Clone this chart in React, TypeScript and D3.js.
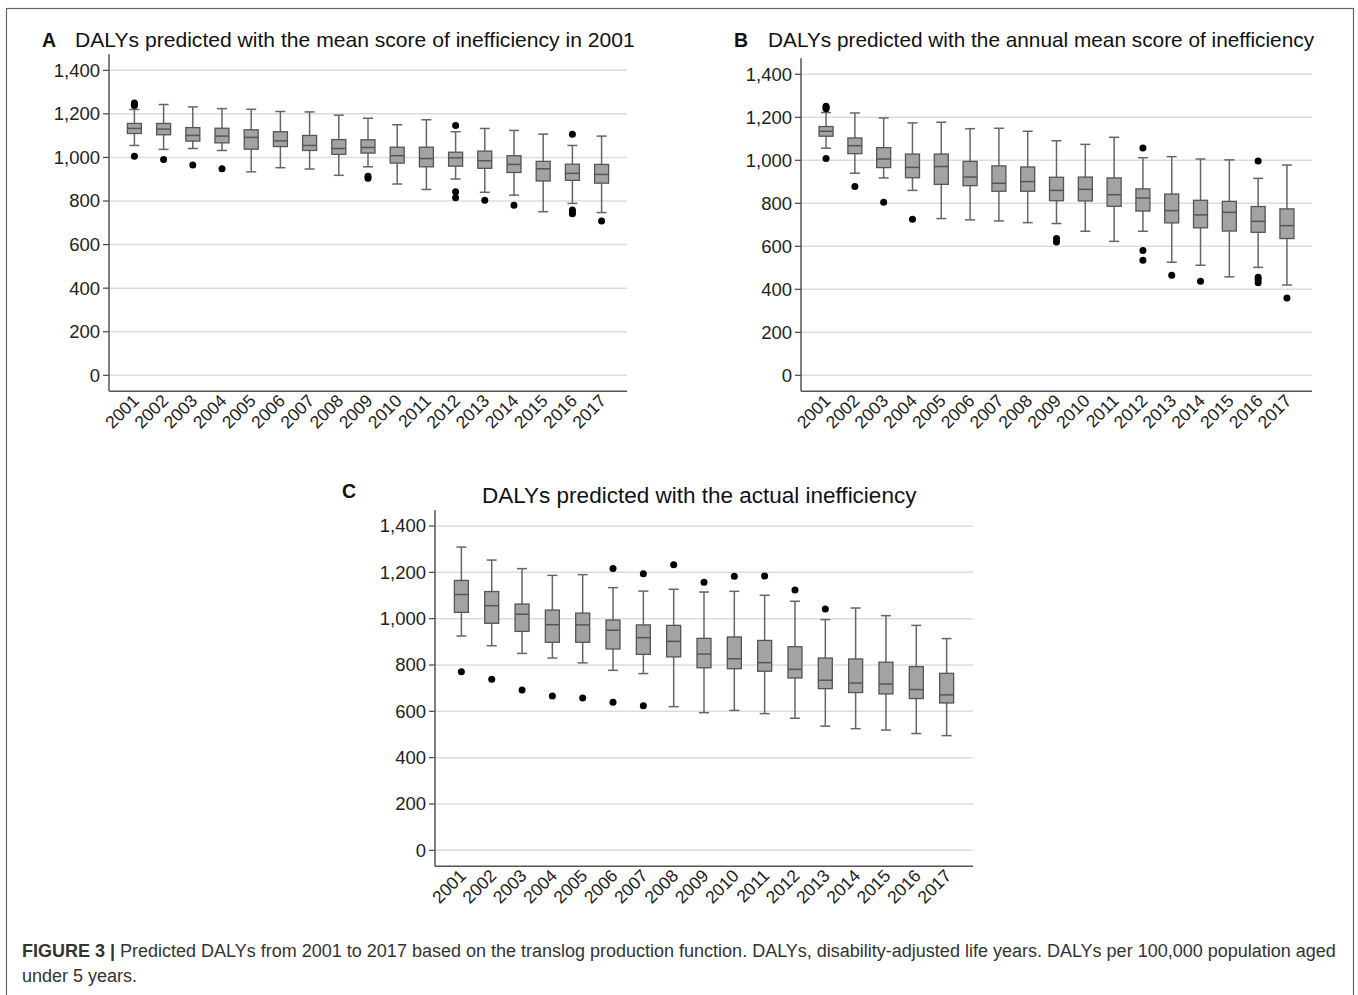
import React from "react";
import * as d3 from "d3";

const years = ["2001","2002","2003","2004","2005","2006","2007","2008","2009","2010","2011","2012","2013","2014","2015","2016","2017"];
const yTicks = [0, 200, 400, 600, 800, 1000, 1200, 1400];

// Panel A: mean score of inefficiency in 2001
const aLow = [1055,1037,1041,1032,934,953,947,918,957,878,853,901,840,827,751,789,747];
const aQ1 = [1110,1104,1075,1067,1038,1050,1032,1014,1020,974,957,960,950,931,892,895,882];
const aMed = [1133,1130,1101,1098,1092,1076,1055,1041,1046,1008,995,998,985,968,948,927,922];
const aQ3 = [1156,1156,1137,1134,1127,1118,1101,1082,1081,1047,1047,1024,1029,1008,982,969,968];
const aHigh = [1220,1243,1232,1224,1221,1211,1209,1194,1180,1150,1173,1118,1133,1124,1107,1055,1098];
const aOut = [[1250,1243,1238,1006],[991],[965],[948],[],[],[],[],[914,904],[],[],[1147,843,815],[803],[780],[],[1107,759,750,742],[708]];

// Panel B: annual mean score of inefficiency
const bLow = [1056,940,918,860,729,723,718,710,706,670,623,670,526,512,458,502,420];
const bQ1 = [1112,1031,966,919,888,882,856,856,812,811,786,764,709,686,671,665,636];
const bMed = [1135,1068,1006,967,971,922,893,901,860,865,840,825,766,746,758,716,696];
const bQ3 = [1157,1104,1059,1029,1029,995,974,969,921,922,918,867,843,814,809,785,774];
const bHigh = [1222,1220,1197,1174,1177,1147,1149,1135,1091,1074,1107,1012,1017,1006,1002,916,978];
const bOut = [[1251,1244,1240,1008],[878],[805],[726],[],[],[],[],[636,620],[],[],[1057,580,535],[465],[437],[],[997,456,444,431],[359]];

// Panel C: actual inefficiency
const cLow = [925,883,850,830,809,777,763,620,594,604,590,570,536,525,519,504,495];
const cQ1 = [1027,980,945,898,898,869,846,835,788,784,773,744,698,681,675,655,636];
const cMed = [1104,1056,1019,974,973,950,918,902,847,827,810,781,734,722,718,694,671];
const cQ3 = [1165,1117,1063,1037,1024,994,973,971,915,921,906,879,830,826,812,793,764];
const cHigh = [1309,1253,1216,1187,1190,1134,1119,1127,1115,1118,1101,1075,996,1046,1013,971,914];
const cOut = [[771],[738],[692],[666],[658],[1217,639],[1194,624],[1233],[1157],[1183],[1184],[1124],[1042],[],[],[],[]];

const FONT = "'Liberation Sans', Arial, Helvetica, sans-serif";

type PanelProps = {
  letter: string;
  title: string;
  letterX: number;
  titleX: number;
  titleY: number;
  titleSize?: number;
  xLeft: number;
  xRight: number;
  yZero: number;
  yTop: number;
  low: number[];
  q1: number[];
  med: number[];
  q3: number[];
  high: number[];
  out: number[][];
  letterY?: number;
};

function Panel(p: PanelProps) {
  const x = d3.scalePoint<string>().domain(years).range([p.xLeft, p.xRight]).padding(0.87);
  const y = d3.scaleLinear().domain([0, 1400]).range([p.yZero, p.yTop]);
  const axisTop = p.yTop - 16;
  const axisBottom = p.yZero + 16;
  const bw = 14;
  const cap = 10;
  const fmt = d3.format(",");
  return (
    <g>
      <text x={p.letterX} y={p.letterY ?? p.titleY} fontFamily={FONT} fontWeight="bold" fontSize={19.5} fill="#111">{p.letter}</text>
      <text x={p.titleX} y={p.titleY} fontFamily={FONT} fontSize={p.titleSize ?? 21.1} fill="#111">{p.title}</text>
      {yTicks.map((t) => (
        <g key={t}>
          <line x1={p.xLeft} x2={p.xRight} y1={y(t)} y2={y(t)} stroke="#dcdcdc" strokeWidth={1.5} />
          <line x1={p.xLeft - 6} x2={p.xLeft} y1={y(t)} y2={y(t)} stroke="#444" strokeWidth={1.2} />
          <text x={p.xLeft - 9} y={y(t)} dy="0.35em" textAnchor="end" fontFamily={FONT} fontSize={18.5} fill="#222">{fmt(t)}</text>
        </g>
      ))}
      <line x1={p.xLeft} x2={p.xLeft} y1={axisTop} y2={axisBottom} stroke="#555" strokeWidth={1.5} />
      <line x1={p.xLeft} x2={p.xRight} y1={axisBottom} y2={axisBottom} stroke="#555" strokeWidth={1.5} />
      {years.map((yr, i) => {
        const cx = x(yr) as number;
        return (
          <g key={yr}>
            <line x1={cx} x2={cx} y1={y(p.high[i])} y2={y(p.q3[i])} stroke="#666" strokeWidth={1.5} />
            <line x1={cx} x2={cx} y1={y(p.q1[i])} y2={y(p.low[i])} stroke="#666" strokeWidth={1.5} />
            <line x1={cx - cap / 2} x2={cx + cap / 2} y1={y(p.high[i])} y2={y(p.high[i])} stroke="#666" strokeWidth={1.5} />
            <line x1={cx - cap / 2} x2={cx + cap / 2} y1={y(p.low[i])} y2={y(p.low[i])} stroke="#666" strokeWidth={1.5} />
            <rect x={cx - bw / 2} y={y(p.q3[i])} width={bw} height={y(p.q1[i]) - y(p.q3[i])} fill="#a3a3a3" stroke="#555" strokeWidth={1.3} />
            <line x1={cx - bw / 2} x2={cx + bw / 2} y1={y(p.med[i])} y2={y(p.med[i])} stroke="#555" strokeWidth={1.5} />
            {p.out[i].map((v, j) => (
              <circle key={j} cx={cx} cy={y(v)} r={3.5} fill="#000" />
            ))}
            <text transform={`translate(${cx - 3},${axisBottom + 2}) rotate(-45)`} dy="0.7em" textAnchor="end" fontFamily={FONT} fontSize={17.5} fill="#222">{yr}</text>
          </g>
        );
      })}
    </g>
  );
}

export default function App() {
  return (
    <svg width={1358} height={995} style={{ position: "absolute", left: 0, top: 0, background: "#fff" }}>
      <rect x={6.5} y={8.5} width={1347} height={1000} fill="#fff" stroke="#666" strokeWidth={1.2} />
      <Panel letter="A" title="DALYs predicted with the mean score of inefficiency in 2001" letterX={42} titleX={75} titleY={47}
        xLeft={109} xRight={627} yZero={375.3} yTop={70.3}
        low={aLow} q1={aQ1} med={aMed} q3={aQ3} high={aHigh} out={aOut} />
      <Panel letter="B" title="DALYs predicted with the annual mean score of inefficiency" letterX={734} titleX={768} titleY={47} titleSize={20.8}
        xLeft={801} xRight={1312} yZero={375.3} yTop={74.3}
        low={bLow} q1={bQ1} med={bMed} q3={bQ3} high={bHigh} out={bOut} />
      <Panel letter="C" title="DALYs predicted with the actual inefficiency" letterX={342} titleX={482} titleY={503} letterY={498} titleSize={22.5}
        xLeft={435} xRight={973} yZero={850.3} yTop={526}
        low={cLow} q1={cQ1} med={cMed} q3={cQ3} high={cHigh} out={cOut} />
      <text x={22} y={957} fontFamily={FONT} fontSize={18} fill="#333">
        <tspan fontWeight="bold">FIGURE 3 | </tspan>
        <tspan>Predicted DALYs from 2001 to 2017 based on the translog production function. DALYs, disability-adjusted life years. DALYs per 100,000 population aged</tspan>
      </text>
      <text x={22} y={982} fontFamily={FONT} fontSize={18} fill="#333">under 5 years.</text>
    </svg>
  );
}
